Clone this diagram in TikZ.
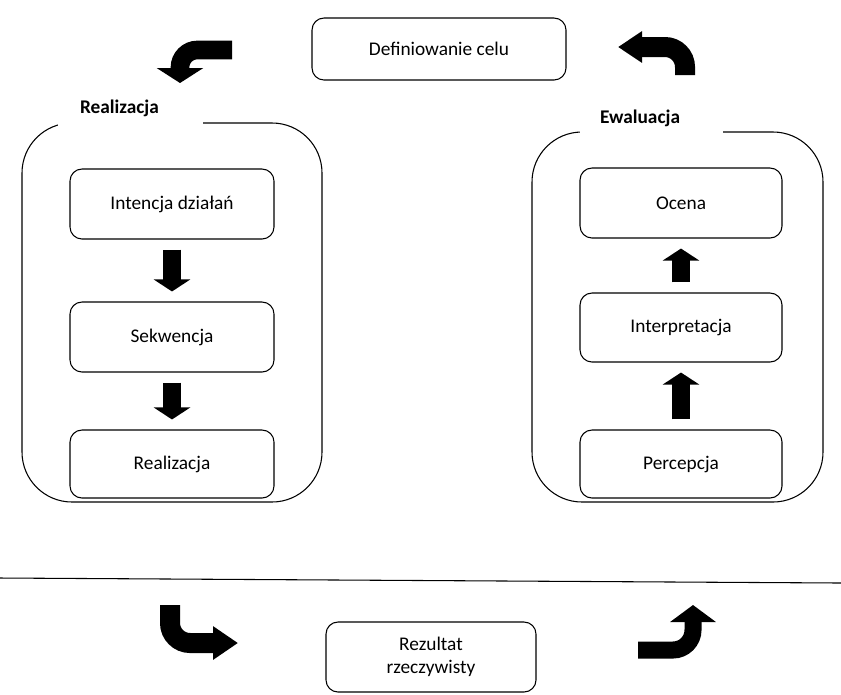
\documentclass[tikz,border=0pt]{standalone}
\usepackage{fontspec}
\setmainfont{Carlito}
\usepackage{tikz}
\usetikzlibrary{positioning, arrows.meta}

\tikzset{
  stepbox/.style={draw, thick, rounded corners=9pt, minimum height=52.5pt,
                  font=\fontsize{14.5pt}{17.5pt}\selectfont, align=center},
  framebox/.style={draw, thick, rounded corners=37.5pt},
  frametitle/.style={fill=white, font=\fontsize{14.5pt}{17.5pt}\selectfont\bfseries,
                     minimum height=27pt, align=left},
  flowarrow/.style={line width=13.5pt, shorten <=7.5pt, shorten >=7.5pt,
                    -{Triangle[length=9pt, width=27pt]}},
  bentarrow/.style={line width=15pt, rounded corners=15pt}
}

\begin{document}
\begin{tikzpicture}[x=0.75pt, y=-0.75pt]
  \useasboundingbox (0,0) rectangle (841,694);

  % goal on top
  \node[stepbox, minimum width=190.5pt, minimum height=46.5pt] (cel) at (439,49) {Definiowanie celu};

  % the two phases
  \node[framebox, minimum width=225pt, minimum height=284.25pt] (realframe) at (172,312.5) {};
  \node[framebox, minimum width=218.25pt, minimum height=277.5pt] (ewalframe) at (677.5,317) {};
  \node[frametitle, inner xsep=16.5pt, text width=75.75pt] (realtitle) at (130.5,108) {Realizacja};
  \node[frametitle, inner xsep=15pt, text width=77.25pt] (ewaltitle) at (651.5,118) {Ewaluacja};

  \node[stepbox, minimum width=153pt] (intencja) at (172,204) {Intencja działań};
  \node[stepbox, minimum width=153pt] (sekwencja) at (172,337) {Sekwencja};
  \node[stepbox, minimum width=153pt, minimum height=51pt] (realizacja) at (172,464) {Realizacja};

  \node[stepbox, minimum width=151.5pt] (ocena) at (681,203) {Ocena};
  \node[stepbox, minimum width=151.5pt, minimum height=51.75pt] (interpretacja) at (681,327.5) {Interpretacja};
  \node[stepbox, minimum width=151.5pt, minimum height=51pt] (percepcja) at (681,464) {Percepcja};

  \draw[flowarrow] (intencja) -- (sekwencja);
  \draw[flowarrow] (sekwencja) -- (realizacja);
  \draw[flowarrow] (percepcja) -- (interpretacja);
  \draw[flowarrow] (interpretacja) -- (ocena);

  % world
  \draw[thick] (0,578) -- (841,583);
  \node[stepbox, minimum width=157.5pt] (rezultat) at (431,657) {Rezultat\\rzeczywisty};

  % bent arrows round the cycle
  \draw[bentarrow, line width=14pt, rounded corners=13pt,
        -{Triangle[length=11.25pt, width=34.5pt]}] (232,50) -- (180,50) -- (180,83);
  \draw[bentarrow, -{Triangle[length=18pt, width=22.5pt]}] (685,75) -- (685,47) -- (618,47);
  \draw[bentarrow, -{Triangle[length=18.75pt, width=24pt]}] (170,605) -- (170,643) -- (238,643);
  \draw[bentarrow, line width=12.75pt, -{Triangle[length=12.75pt, width=33.75pt]}] (638,650) -- (693,650) -- (693,605);
\end{tikzpicture}
\end{document}
